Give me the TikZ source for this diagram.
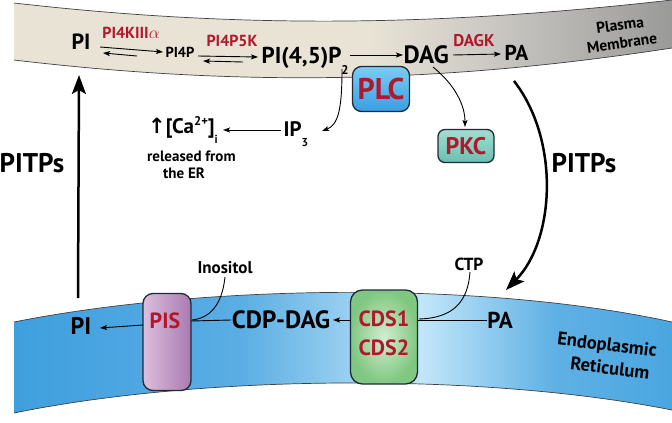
\documentclass[tikz,border=0pt]{standalone}
\usepackage{fontspec}
\setmainfont{PT Sans}
\newfontfamily\dejavu{DejaVu Sans}
\usetikzlibrary{arrows.meta,calc}
\definecolor{txtred}{HTML}{B0182C}
\definecolor{pmA}{HTML}{E8E3D5}
\definecolor{pmB}{HTML}{CFCCC6}
\definecolor{pmC}{HTML}{9A9A9A}
\definecolor{erA}{HTML}{3F9FDE}
\definecolor{erB}{HTML}{C2E6F9}
\definecolor{erC}{HTML}{4AA6E0}
\definecolor{edge}{HTML}{1E2A36}
\definecolor{plcT}{HTML}{7CCBF3}
\definecolor{plcB}{HTML}{3A9FE3}
\definecolor{pkcT}{HTML}{A4DCD1}
\definecolor{pkcB}{HTML}{68C1B1}
\definecolor{pisL}{HTML}{DDBEDD}
\definecolor{pisR}{HTML}{A97BB0}
\definecolor{cdsI}{HTML}{D2EDD0}
\definecolor{cdsO}{HTML}{80C781}
\pgfdeclarehorizontalshading{pmshade}{100bp}{color(0bp)=(pmA); color(25bp)=(pmA); color(52bp)=(pmA); color(60bp)=(pmB); color(75bp)=(pmC); color(100bp)=(pmC)}
\pgfdeclarehorizontalshading{ershade}{100bp}{color(0bp)=(erA); color(25bp)=(erA); color(42bp)=(erA!80!erB); color(56bp)=(erB); color(66bp)=(erA!75!erB); color(75bp)=(erC); color(100bp)=(erC)}
\newcommand\lowsub[1]{\raisebox{-0.5em}{\scalebox{0.55}{#1}}}
\newcommand\highsup[1]{\raisebox{0.75ex}{\scalebox{0.6}{#1}}}
\begin{document}
\begin{tikzpicture}[x=1pt,y=-1pt,
  lbl/.style={inner sep=0.5pt, font=\bfseries\fontsize{#1}{#1}\selectfont},
  redlbl/.style={inner sep=0.5pt, text=txtred, font=\bfseries\fontsize{#1}{#1}\selectfont},
  arr/.style={-{Stealth[length=7pt,width=5pt,inset=1.5pt]}, line width=0.9pt},
  plainline/.style={line width=0.9pt},
  bigarr/.style={-{Stealth[length=19pt,width=14pt,inset=4pt]}, line width=2.5pt},
  enzbox/.style={draw=edge, line width=1.3pt, rounded corners=9pt, inner sep=0pt, text=txtred}
]
\useasboundingbox (0,0) rectangle (672,423);

% plasma membrane band
\shade[shading=pmshade] (14,3) .. controls (250,30) and (450,25) .. (672,0) -- (672,48) .. controls (450,82) and (250,88) .. (14,60) -- cycle;
\draw[line width=0.7pt, black!75] (14,3) .. controls (250,30) and (450,25) .. (672,0);
\draw[line width=0.7pt, black!75] (14,60) .. controls (250,88) and (450,82) .. (672,48);

% ER band
\shade[shading=ershade] (14,322) .. controls (200,285) and (480,280) .. (672,322) -- (672,410) .. controls (480,372) and (200,375) .. (14,413) -- cycle;
\draw[line width=0.7pt, black!75] (14,322) .. controls (200,285) and (480,280) .. (672,322);
\draw[line width=0.7pt, black!75] (14,413) .. controls (200,375) and (480,372) .. (672,410);

% plasma membrane labels
\node[lbl=22] (piT) at (81,42) {PI};
\node[redlbl=16] (k4) at (131,33) {PI4KIII$\alpha$};
\node[lbl=14.5] (pi4p) at (180,52) {PI4P};
\node[redlbl=16] (k5) at (232,41) {PI4P5K};
\node[lbl=23, anchor=base west] (pip2) at (261,63) {PI(4,5)P\lowsub{2}};
\node[lbl=25, anchor=base west] (dag) at (403,63) {DAG};
\node[redlbl=17] (dagk) at (474,41) {DAGK};
\node[lbl=21.5, anchor=base west] (paT) at (504,60) {PA};
\node[lbl=15.5, rotate=8] (pm1) at (620,25) {Plasma};
\node[lbl=15.5, rotate=8] (pm2) at (622,43) {Membrane};

\node[enzbox, minimum width=57pt, minimum height=45pt, top color=plcT, bottom color=plcB, font=\bfseries\fontsize{30}{30}\selectfont] (plc) at (381,89) {PLC};

\node[lbl=21, anchor=base west] (ip3) at (283,136) {IP\lowsub{3}};
\node[lbl=21] (ca) at (183,130) {{\dejavu\bfseries ↑}[Ca\highsup{2+}]\lowsub{i}};
\node[inner sep=0pt, anchor=north west, align=left, font=\bfseries\fontsize{15}{17}\selectfont] (rel) at (147,151) {released from\\\hspace*{16pt}the ER};

\node[enzbox, minimum width=56pt, minimum height=33pt, rounded corners=7pt, top color=pkcT, bottom color=pkcB, font=\bfseries\fontsize{24}{24}\selectfont] (pkc) at (466,146) {PKC};

\node[lbl=27] (pitpR) at (584,163) {PITPs};
\node[lbl=27] (pitpL) at (32,163) {PITPs};

% ER labels
\node[lbl=24] (piB) at (81,326) {PI};
\node[enzbox, minimum width=48pt, minimum height=97pt, rounded corners=10pt, left color=pisL, right color=pisR] (pis) at (167,342) {};
\node[redlbl=22] (pist) at (165,321) {PIS};
\node[lbl=17] (ino) at (225,268) {Inositol};
\node[lbl=25] (cdp) at (281,320) {CDP-DAG};
\node[enzbox, minimum width=67pt, minimum height=94pt, rounded corners=12pt, inner color=cdsI, outer color=cdsO] (cds) at (384,337) {};
\node[redlbl=22] (cds1) at (384,319) {CDS1};
\node[redlbl=22] (cds2) at (384,348) {CDS2};
\node[lbl=17.5] (ctp) at (469,264) {CTP};
\node[lbl=23] (paB) at (500,320) {PA};
\node[lbl=18.5, rotate=-7] (er1) at (607,346) {Endoplasmic};
\node[lbl=18.5, rotate=-7] (er2) at (610,368) {Reticulum};

\coordinate (erIn) at (506,290);

% plasma membrane connectors
\draw[arr] ([shift={(19,5)}]piT.center) -- ([shift={(-17,0)}]pi4p.center);
\draw[arr] ([shift={(-43,4)}]pi4p.center) -- ([shift={(22,11)}]piT.center);
\draw[arr] ([shift={(18,4)}]pi4p.center) -- ([shift={(-3,-6)}]pip2.base west);
\draw[arr] ([shift={(-18,-1)}]pip2.base west) -- ([shift={(23,9)}]pi4p.center);
\draw[arr] ([shift={(89,-8)}]pip2.base west) -- ([shift={(0,-8)}]dag.base west);
\draw[arr] ([shift={(50,-8)}]dag.base west) -- ([shift={(-3,-6)}]paT.base west);

\draw[arr] ([shift={(81,6)}]pip2.base west) .. controls (342,110) and (338,125) .. ([shift={(39,-5)}]ip3.base west);
\draw[arr] ([shift={(-2,-6)}]ip3.base west) -- ([shift={(40,0)}]ca.center);
\draw[arr] ([shift={(30,4)}]dag.base west) .. controls (455,85) and (465,105) .. ([shift={(-1,-19)}]pkc.center);

\draw[bigarr] ([shift={(10,21)}]paT.base west) .. controls (560,140) and (555,240) .. (erIn);
\draw[bigarr] ([shift={(-3,-28)}]piB.center) -- ([shift={(-2,33)}]piT.center);

% ER connectors
\draw[arr] ([shift={(-24,-17)}]pis.center) -- ([shift={(19,2)}]piB.center);
\draw[plainline] ([shift={(-50,0)}]cdp.center) -- ([shift={(24,-21)}]pis.center);
\draw[plainline] ([shift={(0,9)}]ino.center) .. controls (222,305) and (210,318) .. ([shift={(25,-22)}]pis.center);
\draw[arr] ([shift={(-33.5,-17)}]cds.center) -- ([shift={(52,0)}]cdp.center);
\draw[plainline] ([shift={(-13,0)}]paB.center) -- ([shift={(33.5,-17)}]cds.center);
\draw[plainline] ([shift={(1,8)}]ctp.center) .. controls (468,300) and (455,318) .. ([shift={(35,-18)}]cds.center);
\end{tikzpicture}
\end{document}
